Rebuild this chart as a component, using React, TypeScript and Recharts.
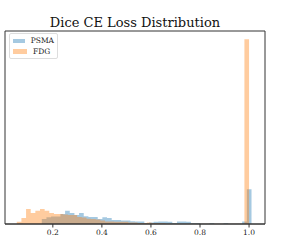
import { ComposedChart, Area, XAxis, YAxis, ReferenceArea } from "recharts";

// histogram bins (50 each), left edge + bin width, heights
const psmaStart = 0.06;
const psmaBinWidth = 0.019;
const psmaCounts = [
  0.1, 0, 0, 0, 0, 1.4, 1.9, 2.1, 2.1, 2.8,
  3.7, 3.1, 2.5, 3.1, 2.2, 2.0, 2.0, 1.4, 1.9, 1.7,
  1.1, 1.1, 1.0, 1.0, 0.8, 0.7, 0.7, 0.3, 0.4, 0.6,
  0.7, 0.7, 0.6, 0.3, 0.7, 0.7, 0.6, 0.3, 0.3, 0.1,
  0.1, 0.3, 0.1, 0.1, 0.3, 0.1, 0.1, 0.1, 0.7, 9.75
];

const fdgStart = 0.053;
const fdgBinWidth = 0.01894;
const fdgCounts = [
  0.6, 1.7, 4.2, 3.1, 3.7, 4.2, 3.7, 3.1, 2.8, 2.8,
  2.7, 2.5, 2.5, 2.0, 1.8, 1.5, 1.4, 1.3, 1.0, 0.7,
  0.7, 0.6, 0.6, 0.6, 0.4, 0.4, 0.3, 0.3, 0.4, 0.3,
  0.3, 0.3, 0.1, 0.1, 0.1, 0.1, 0.1, 0.1, 0.1, 0.1,
  0.1, 0.1, 0.1, 0.1, 0.1, 0.1, 0.1, 0.1, 0.1, 52.0
];

const xTicks = [0.2, 0.4, 0.6, 0.8, 1.0];
const yTicks = [0, 10, 20, 30, 40, 50];
const xDomain = [0.005, 1.065];
const yDomain = [0, 54.3];

const FONT = "'DejaVu Serif', serif";
const BLUE = "rgba(31,119,180,0.4)";
const ORANGE = "rgba(255,127,14,0.4)";

// stepAfter points: one per left edge, then the closing right edge at 0
function toSteps(start: number, width: number, counts: number[]) {
  const pts = counts.map((v, i) => ({ x: start + i * width, v }));
  pts.push({ x: start + counts.length * width, v: 0 });
  return pts;
}

const psmaData = toSteps(psmaStart, psmaBinWidth, psmaCounts);
const fdgData = toSteps(fdgStart, fdgBinWidth, fdgCounts);

function LegendBox() {
  const row = (color: string, label: string) => (
    <div style={{ display: "flex", alignItems: "center", height: 10.5 }}>
      <div style={{ width: 14, height: 4.5, background: color, marginRight: 6 }} />
      <span>{label}</span>
    </div>
  );
  return (
    <div
      style={{
        position: "absolute",
        left: 9,
        top: 33,
        width: 41,
        border: "1px solid #ddd",
        borderRadius: 2,
        background: "rgba(255,255,255,0.8)",
        padding: "1.5px 3px 1.5px 3px",
        fontFamily: FONT,
        fontSize: 7.5,
        lineHeight: 1,
        color: "#222"
      }}
    >
      {row(BLUE, "PSMA")}
      {row(ORANGE, "FDG")}
    </div>
  );
}

export default function App() {
  return (
    <div style={{ position: "absolute", left: 0, top: 0, width: 299, height: 252, background: "#fff" }}>
      <ComposedChart width={299} height={252} margin={{ top: 31, right: 34, bottom: 8, left: 5 }}>
        <XAxis
          type="number"
          dataKey="x"
          domain={xDomain}
          ticks={xTicks}
          allowDataOverflow
          tickFormatter={(v: number) => v.toFixed(1)}
          tickSize={3.5}
          tickLine={{ stroke: "#333" }}
          axisLine={{ stroke: "#333" }}
          tick={{ fontFamily: FONT, fontSize: 7.5, fill: "#222" }}
          height={20}
        />
        <YAxis
          type="number"
          domain={yDomain}
          ticks={yTicks}
          allowDataOverflow
          width={0}
          tick={false}
          tickSize={3.5}
          tickLine={{ stroke: "#333" }}
          axisLine={{ stroke: "#333" }}
        />
        <Area
          data={psmaData}
          dataKey="v"
          type="stepAfter"
          fill={BLUE}
          fillOpacity={1}
          stroke="none"
          isAnimationActive={false}
          name="PSMA"
        />
        <Area
          data={fdgData}
          dataKey="v"
          type="stepAfter"
          fill={ORANGE}
          fillOpacity={1}
          stroke="none"
          isAnimationActive={false}
          name="FDG"
        />
        <ReferenceArea
          x1={xDomain[0]}
          x2={xDomain[1]}
          y1={yDomain[0]}
          y2={yDomain[1]}
          fill="none"
          stroke="#333"
          strokeWidth={1}
          ifOverflow="visible"
        />
      </ComposedChart>
      <div
        style={{
          position: "absolute",
          left: 5,
          width: 260,
          top: 15.5,
          textAlign: "center",
          fontFamily: FONT,
          fontSize: 13,
          lineHeight: 1,
          color: "#111"
        }}
      >
        Dice CE Loss Distribution
      </div>
      <LegendBox />
    </div>
  );
}
